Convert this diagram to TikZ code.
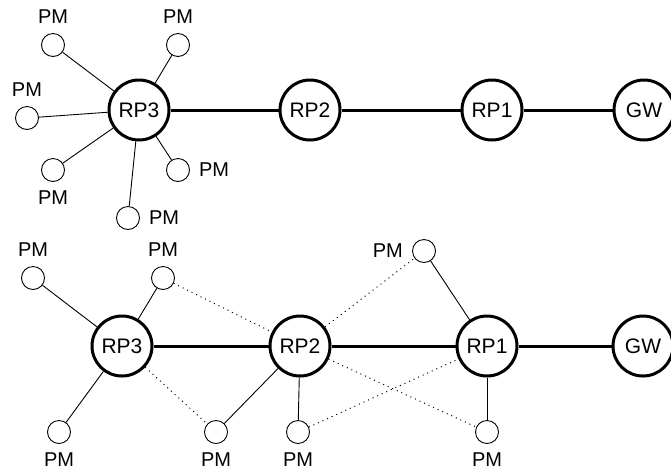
\documentclass[tikz,border=0pt]{standalone}
\usepackage{fontspec}
\setmainfont{Liberation Sans}
\begin{document}
\begin{tikzpicture}
[x=1pt,y=-1pt,
  relayDecorate/.style={shape=circle,draw,line width=3pt,minimum size=60pt,inner sep=0pt,font=\fontsize{21}{25}\selectfont},
  meterDecorate/.style={shape=circle,draw,line width=0.9pt,minimum size=23pt,inner sep=0pt},
  trunkDecorate/.style={-,line width=3pt},
  lineDecorate/.style={-,line width=0.9pt},
  backupDecorate/.style={-,line width=1pt,dash pattern=on 1pt off 4pt},
  every label/.style={font=\fontsize{20}{24}\selectfont,inner sep=0pt},
  label distance=9pt]
\useasboundingbox (0,0) rectangle (671,475);
%% relays and gateways
\foreach \nodename/\x/\y/\txt in {
  tRP3/139/110/RP3, tRP2/310/110/RP2, tRP1/492/110/RP1, tGW/644/110/GW,
  bRP3/122/346/RP3, bRP2/300/346/RP2, bRP1/487/346/RP1, bGW/643/346/GW}
{
  \node (\nodename) at (\x,\y) [relayDecorate] {\txt};
}
%% power meters
\foreach \nodename/\x/\y/\pos in {
  tPMa/53/45/above, tPMb/178/45/above, tPMc/27/118/above,
  tPMd/53/170/below, tPMe/178/170/right, tPMf/128/218/right,
  bPMa/33/278/above, bPMb/163/278/above, bPMc/59/432/below,
  bPMd/216/432/below, bPMe/298/432/below, bPMf/424/251/left,
  bPMg/487/432/below}
{
  \node (\nodename) at (\x,\y) [meterDecorate,label=\pos:PM] {};
}
%% backbone
\path
\foreach \startnode/\endnode in {
  tRP3/tRP2, tRP2/tRP1, tRP1/tGW, bRP3/bRP2, bRP2/bRP1, bRP1/bGW}
{
  (\startnode) edge[trunkDecorate] (\endnode)
};
%% meter links
\path
\foreach \startnode/\endnode in {
  tRP3/tPMa, tRP3/tPMb, tRP3/tPMc, tRP3/tPMd, tRP3/tPMe, tRP3/tPMf,
  bRP3/bPMa, bRP3/bPMb, bRP3/bPMc, bRP2/bPMd, bRP2/bPMe,
  bRP1/bPMf, bRP1/bPMg}
{
  (\startnode) edge[lineDecorate] (\endnode)
};
%% backup links
\path
\foreach \startnode/\endnode in {
  bPMb/bRP2, bRP3/bPMd, bRP2/bPMf, bRP2/bPMg, bPMe/bRP1}
{
  (\startnode) edge[backupDecorate] (\endnode)
};
\end{tikzpicture}
\end{document}
